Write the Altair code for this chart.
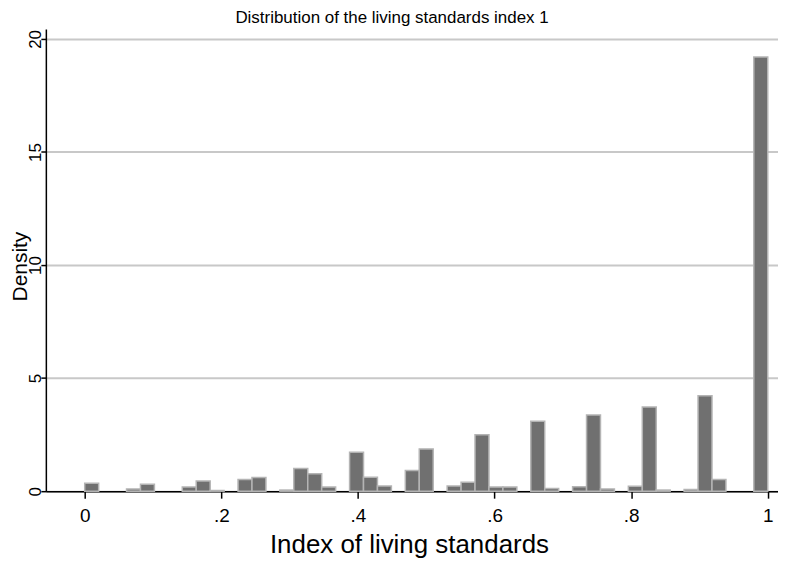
import altair as alt
import pandas as pd

# Histogram of the living standards index: 49 equal-width bins on [0, 1]
n_bins = 49
bin_index = list(range(49))
density = [0.35, 0, 0, 0.10, 0.31, 0, 0, 0.18, 0.45, 0.03,
           0, 0.52, 0.61, 0, 0.05, 1.00, 0.77, 0.18, 0, 1.72,
           0.62, 0.23, 0, 0.92, 1.87, 0, 0.23, 0.40, 2.50, 0.18,
           0.18, 0, 3.09, 0.12, 0, 0.20, 3.37, 0.10, 0, 0.22,
           3.72, 0.05, 0, 0.08, 4.22, 0.52, 0, 0, 19.20]

x_ticks = [0, 0.2, 0.4, 0.6, 0.8, 1.0]
y_ticks = [0, 5, 10, 15, 20]

df = pd.DataFrame({
    "bin": bin_index,
    "density": density,
})
df["lo"] = df["bin"] / n_bins
df["hi"] = (df["bin"] + 1) / n_bins
df = df[df["density"] > 0]

FONT = "Liberation Sans"

L, R, T, B = 46, 781, 28, 492
W, H = R - L, B - T

x_scale = alt.Scale(domain=[-0.0569, 1.015], nice=False, zero=False)
y_scale = alt.Scale(domain=[0, 20.44], nice=False, zero=False)

bars = alt.Chart(df).mark_rect(
    fill="#707070", stroke="#b4b4b4", strokeWidth=1.5
).encode(
    x=alt.X("lo:Q", scale=x_scale,
            axis=alt.Axis(values=x_ticks, title="Index of living standards",
                          labelExpr="datum.value == 0 ? '0' : datum.value == 1 ? '1' : replace(format(datum.value, '.1f'), '0.', '.')",
                          grid=False, domainColor="#000000", domainWidth=1.5,
                          tickColor="#000000", tickSize=7, tickWidth=1.5,
                          labelFontSize=19, labelColor="#000000", labelPadding=8,
                          titleFontSize=26, titleFontWeight="normal", titleColor="#000000",
                          titleX=W / 2 - 3, titleY=54, titleBaseline="middle",
                          titleAlign="center")),
    x2="hi:Q",
    y=alt.Y("density:Q", scale=y_scale,
            axis=alt.Axis(values=y_ticks, title="Density",
                          gridColor="#c8c8c8", gridWidth=2,
                          domainColor="#000000", domainWidth=1.5,
                          tickColor="#000000", tickSize=5, tickWidth=1.5,
                          labelAngle=270, labelAlign="center", labelBaseline="middle",
                          labelFontSize=17, labelColor="#000000", labelPadding=5,
                          titleFontSize=21, titleFontWeight="normal", titleColor="#000000",
                          titleAngle=270, titleX=-25, titleY=H / 2 + 6,
                          titleBaseline="middle", titleAlign="center")),
    y2=alt.datum(0),
)

chart = alt.layer(bars).properties(
    width=W, height=H,
    padding={"left": L - 8, "top": T - 8, "right": 0, "bottom": 66},
    autosize=alt.AutoSizeParams(type="none"),
    title=alt.TitleParams("Distribution of the living standards index 1",
                          fontSize=17, fontWeight="normal", color="#000000",
                          font=FONT, anchor="middle", frame="group",
                          dx=-20, offset=2),
).configure(font=FONT).configure_view(stroke=None)

chart.save("out.html", embed_options={"renderer": "svg", "actions": False})
